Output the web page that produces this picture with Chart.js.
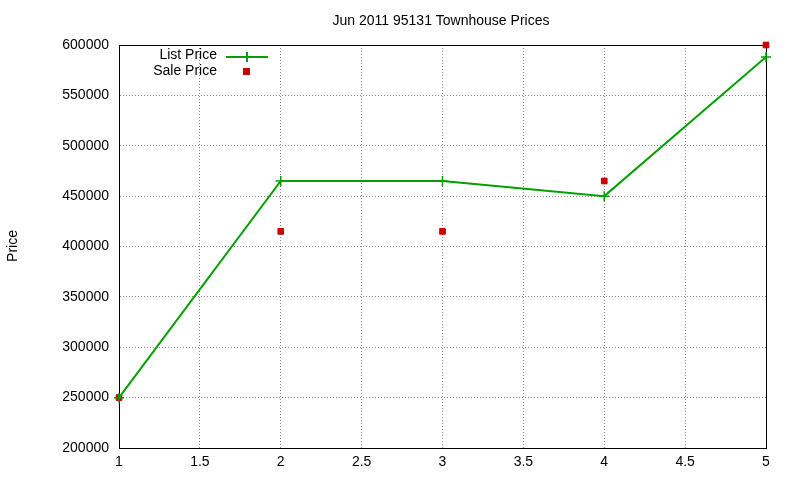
<!DOCTYPE html>
<html><head><meta charset="utf-8">
<script src="https://cdn.jsdelivr.net/npm/chart.js@4"></script>
<style>html,body{margin:0;background:#fff}#wrap{width:800px;height:480px}</style>
</head><body><div id="wrap"><canvas id="c"></canvas></div>
<script>
const xs = [1, 2, 3, 4, 5];
const listPrice = [250000, 465000, 465000, 450000, 588000];
const salePrice = [250000, 415000, 415000, 465000, 600000];
const chartTitle = 'Jun 2011 95131 Townhouse Prices';

const font = {family: 'Liberation Sans, Arial, sans-serif', size: 14};

// gnuplot-ish title, y label and inner legend
const extras = {
  id: 'extras',
  afterDraw(chart) {
    const ctx = chart.ctx;
    ctx.save();
    ctx.fillStyle = '#000';
    ctx.font = '14px Liberation Sans, Arial, sans-serif';
    ctx.textAlign = 'center';
    ctx.textBaseline = 'middle';
    ctx.fillText(chartTitle, 441, 21);
    ctx.translate(13, 246);
    ctx.rotate(-Math.PI / 2);
    ctx.fillText('Price', 0, 0);
    ctx.restore();

    ctx.save();
    ctx.font = '14px Liberation Sans, Arial, sans-serif';
    ctx.textAlign = 'right';
    ctx.textBaseline = 'middle';
    ctx.fillStyle = '#000';
    ctx.fillText(chart.data.datasets[0].label, 217, 55);
    ctx.fillText(chart.data.datasets[1].label, 217, 71);
    ctx.strokeStyle = '#00a000';
    ctx.lineWidth = 2;
    ctx.beginPath();
    ctx.moveTo(226, 57); ctx.lineTo(268, 57);
    ctx.moveTo(247, 52); ctx.lineTo(247, 62);
    ctx.stroke();
    ctx.fillStyle = '#cc0000';
    ctx.fillRect(243, 68, 7, 7);
    ctx.restore();
  }
};

const grid = {color: '#888', drawTicks: false, lineWidth: 1};
const border = {color: '#000', width: 1, dash: [1, 2]};

new Chart(document.getElementById('c'), {
  type: 'line',
  data: {
    datasets: [
      {
        label: 'List Price',
        data: xs.map((x, i) => ({x: x, y: listPrice[i]})),
        borderColor: '#00a000',
        backgroundColor: '#00a000',
        borderWidth: 2,
        pointStyle: 'cross',
        pointRadius: 5,
        pointBorderWidth: 1.5,
        tension: 0,
        clip: false,
      },
      {
        label: 'Sale Price',
        data: xs.map((x, i) => ({x: x, y: salePrice[i]})),
        showLine: false,
        borderColor: '#cc0000',
        backgroundColor: '#cc0000',
        pointStyle: 'rect',
        pointRadius: 4,
        clip: false,
      },
    ],
  },
  options: {
    responsive: true,
    maintainAspectRatio: false,
    animation: false,
    layout: {padding: {top: 45, right: 34, left: 0, bottom: 0}},
    plugins: {legend: {display: false}, tooltip: {enabled: false}},
    scales: {
      x: {
        type: 'linear', min: 1, max: 5,
        ticks: {stepSize: 0.5, color: '#000', font: font, padding: 6, maxRotation: 0,
          callback: v => String(v)},
        grid: grid,
        border: border,
        afterFit: s => { s.height = 32; },
      },
      y: {
        min: 200000, max: 600000,
        ticks: {stepSize: 50000, color: '#000', font: font, padding: 10,
          callback: v => String(v)},
        grid: grid,
        border: border,
        afterFit: s => { s.width = 119; },
      },
    },
  },
  plugins: [extras, {
    id: 'frame',
    beforeDatasetsDraw(chart) {
      const a = chart.chartArea, ctx = chart.ctx;
      ctx.save();
      ctx.strokeStyle = '#000';
      ctx.lineWidth = 1;
      ctx.strokeRect(a.left + 0.5, a.top + 0.5, a.right - a.left, a.bottom - a.top);
      ctx.restore();
    }
  }],
});
</script>
</body></html>
